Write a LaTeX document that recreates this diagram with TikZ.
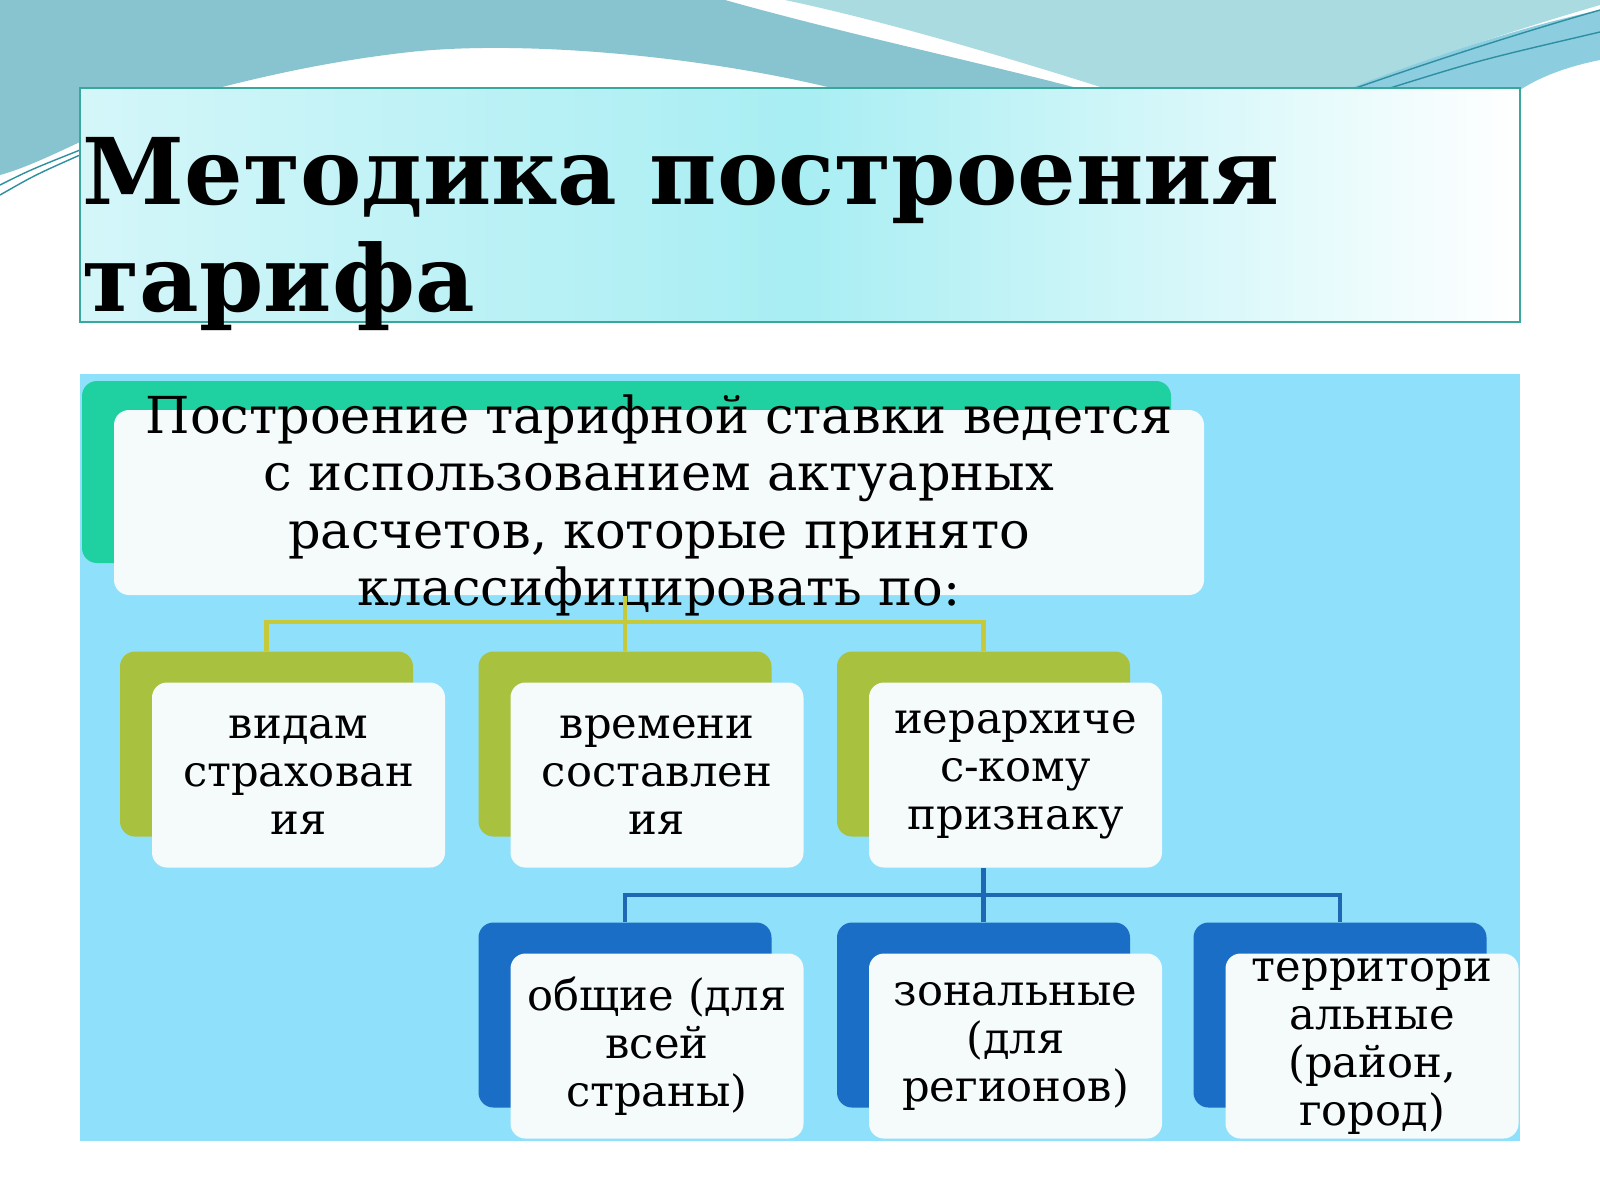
\documentclass[tikz,border=0pt]{standalone}
\usepackage{fontspec}
\setmainfont{DejaVu Serif}
\usetikzlibrary{positioning,calc}

\definecolor{tealtop}{HTML}{88C4D0}
\definecolor{teallight}{HTML}{A9DBE0}
\definecolor{tealband}{HTML}{8CCDE0}
\definecolor{tealline}{HTML}{2E8FA0}
\definecolor{titleedge}{HTML}{3AA79D}
\definecolor{titlemid}{HTML}{A8EEF3}
\definecolor{titleleft}{HTML}{D4F6F9}
\definecolor{skyarea}{HTML}{8FE0FA}
\definecolor{cardfill}{HTML}{F5FAFB}
\definecolor{mintbox}{HTML}{1FD0A0}
\definecolor{olivebox}{HTML}{A8C240}
\definecolor{oliveline}{HTML}{C5C93A}
\definecolor{navybox}{HTML}{1A6EC6}
\definecolor{navyline}{HTML}{1F66B5}

\begin{document}
\begin{tikzpicture}[
    card/.style={rectangle, rounded corners=0.15cm, fill=cardfill, inner sep=0pt, align=center, minimum width=2.93cm, minimum height=1.85cm, font=\fontsize{12.3}{13.66}\selectfont},
    backbox/.style={rectangle, rounded corners=0.15cm, inner sep=0pt, minimum width=2.93cm, minimum height=1.85cm},
    greenbox/.style={backbox, fill=olivebox},
    bluebox/.style={backbox, fill=navybox},
    ylink/.style={draw=oliveline, line width=1.2pt},
    blink/.style={draw=navyline, line width=1.2pt},
]
    % page and background waves
    \fill[white] (0,0) rectangle (16,-12);
    \useasboundingbox (0,0) rectangle (16,-12);
    \fill[tealtop] (0,0) -- (7.25,0) .. controls (8.5,-0.35) and (9.7,-0.6) .. (10.85,-0.9)
        -- (8.4,-0.9) .. controls (7,-0.55) and (5.2,-0.4) .. (4.1,-0.52)
        .. controls (3.2,-0.62) and (2.5,-0.8) .. (2.1,-0.9) -- (0.8,-0.9) -- (0.8,-1.42)
        .. controls (0.5,-1.56) and (0.25,-1.68) .. (0,-1.75) -- cycle;
    \fill[teallight] (7.85,0) -- (16,0) -- (16,-0.05) .. controls (14.8,-0.4) and (14,-0.7) .. (13.45,-0.9)
        -- (11.1,-0.9) .. controls (10,-0.55) and (8.8,-0.2) .. (7.85,0) -- cycle;
    \fill[tealband] (13.45,-0.9) .. controls (14.5,-0.5) and (15.3,-0.25) .. (16,-0.1)
        -- (16,-0.6) .. controls (15.6,-0.68) and (15.35,-0.8) .. (15.2,-0.9) -- cycle;
    \draw[tealline, thin] (13.5,-0.9) .. controls (14.5,-0.55) and (15.3,-0.3) .. (16,-0.1);
    \draw[tealline, thin] (13.9,-0.88) .. controls (14.8,-0.6) .. (16,-0.32);
    \draw[tealline, thin] (0,-1.85) .. controls (0.3,-1.7) .. (0.8,-1.5);
    \draw[tealline, thin] (0,-1.95) .. controls (0.35,-1.75) .. (0.8,-1.55);

    % title
    \node[rectangle, draw=titleedge, thin, left color=titleleft, right color=white, middle color=titlemid,
        minimum width=14.4cm, minimum height=2.34cm, inner sep=0pt] (titlebox) at (8,-2.05) {};
    \node[anchor=base west, inner sep=0pt, align=left, font=\fontsize{26.2}{30.4}\bfseries\selectfont]
        (title) at (0.82,-3.11) {Методика построения\\тарифа};

    % content area
    \fill[skyarea] (0.8,-3.74) rectangle (15.2,-11.41);

    % top statement
    \node[backbox, fill=mintbox, minimum width=10.89cm, minimum height=1.82cm] (topback) at (6.265,-4.72) {};
    \node[card, minimum width=10.90cm, minimum height=1.85cm] (top) at ([shift={(0.325,-0.305)}]topback.center) {};
    \node[align=center, inner sep=0pt, font=\fontsize{14.5}{16.36}\selectfont] (toptext) at ([yshift=-0.03cm]top.center)
        {Построение тарифной ставки ведется\\с использованием актуарных\\расчетов, которые принято\\классифицировать по:};

    % first level
    \node[greenbox] (g1) at (2.665,-7.44) {};
    \node[greenbox] (g2) at (6.25,-7.44) {};
    \node[greenbox] (g3) at (9.835,-7.44) {};

    \coordinate (ybus) at (6.25,-6.22);
    \draw[ylink] (top.south -| g2.north) -- (g2.north);
    \draw[ylink] (g1.north) |- (ybus) -| (g3.north);

    \node[card] (f1) at ([shift={(0.32,-0.31)}]g1.center) {видам\\страхован\\ия};
    \node[card] (f2) at ([shift={(0.32,-0.31)}]g2.center) {времени\\составлен\\ия};
    \node[card] (f3) at ([shift={(0.32,-0.31)}]g3.center) {иерархиче\\с-кому\\признаку};

    % second level
    \node[bluebox] (b1) at (6.25,-10.15) {};
    \node[bluebox] (b2) at (9.835,-10.15) {};
    \node[bluebox] (b3) at (13.40,-10.15) {};

    \coordinate (bbus) at (9.835,-8.95);
    \draw[blink] (f3.south -| b2.north) -- (b2.north);
    \draw[blink] (b1.north) |- (bbus) -| (b3.north);

    \node[card] (f4) at ([shift={(0.32,-0.31)}]b1.center) {общие (для\\всей\\страны)};
    \node[card] (f5) at ([shift={(0.32,-0.31)}]b2.center) {зональные\\(для\\регионов)};
    \node[card] (f6) at ([shift={(0.32,-0.31)}]b3.center) {территори\\альные\\(район,\\город)};
\end{tikzpicture}
\end{document}
